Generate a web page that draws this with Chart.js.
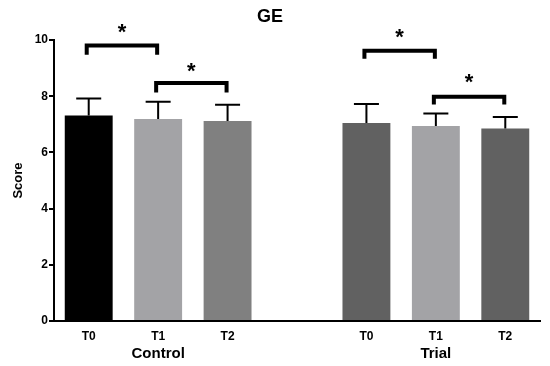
<!DOCTYPE html>
<html>
<head>
<meta charset="utf-8">
<script src="https://cdn.jsdelivr.net/npm/chart.js@4.4.1/dist/chart.umd.min.js"></script>
<style>
  html, body { margin: 0; padding: 0; background: #fff; }
  #wrap { width: 550px; height: 366px; }
</style>
</head>
<body>
<div id="wrap"><canvas id="chart" width="550" height="366"></canvas></div>
<script>
// slots: Control T0..T2, gap, Trial T0..T2
const timeLabels = ["T0", "T1", "T2", "", "T0", "T1", "T2"];
const groupLabels = ["", "Control", "", "", "", "Trial", ""];
const scores = [7.31, 7.19, 7.12, null, 7.05, 6.94, 6.85];
const errors = [0.61, 0.61, 0.58, null, 0.67, 0.44, 0.41];
const barColors = ["#000000", "#a3a3a6", "#808080", "#ffffff", "#616161", "#a3a3a6", "#616161"];
const yTicks = [0, 2, 4, 6, 8, 10];
// significance brackets: [from slot, to slot, line level, end level, star level]
const brackets = [
  [0, 1, 9.8, 9.55, 10.4],
  [1, 2, 8.47, 8.2, 9.0],
  [4, 5, 9.62, 9.4, 10.2],
  [5, 6, 7.98, 7.78, 8.6]
];

const font = "'Liberation Sans', Arial, sans-serif";

const errorBars = {
  id: "errorBars",
  afterDatasetsDraw(c) {
    const ctx = c.ctx, y = c.scales.y;
    const meta = c.getDatasetMeta(0);
    ctx.save();
    ctx.strokeStyle = "#000";
    ctx.lineWidth = 2;
    meta.data.forEach((bar, i) => {
      if (scores[i] == null) return;
      const top = y.getPixelForValue(scores[i] + errors[i]);
      const base = y.getPixelForValue(scores[i]);
      ctx.beginPath();
      ctx.moveTo(bar.x, base);
      ctx.lineTo(bar.x, top);
      ctx.moveTo(bar.x - 12.5, top);
      ctx.lineTo(bar.x + 12.5, top);
      ctx.stroke();
    });
    ctx.restore();
  }
};

const sigBrackets = {
  id: "sigBrackets",
  afterDraw(c) {
    const ctx = c.ctx, x = c.scales.x, y = c.scales.y;
    ctx.save();
    ctx.strokeStyle = "#000";
    ctx.lineWidth = 4;
    ctx.lineCap = "square";
    ctx.lineJoin = "miter";
    brackets.forEach(([a, b, lvl, endLvl, starLvl]) => {
      const x1 = x.getPixelForValue(a) - 2, x2 = x.getPixelForValue(b) - 1;
      const yl = y.getPixelForValue(lvl), ye = y.getPixelForValue(endLvl);
      ctx.beginPath();
      ctx.moveTo(x1, ye);
      ctx.lineTo(x1, yl);
      ctx.lineTo(x2, yl);
      ctx.lineTo(x2, ye);
      ctx.stroke();
      ctx.fillStyle = "#000";
      ctx.font = "bold 22px " + font;
      ctx.textAlign = "center";
      ctx.textBaseline = "middle";
      ctx.fillText("*", (x1 + x2) / 2, y.getPixelForValue(starLvl) + 4);
    });
    ctx.restore();
  }
};

new Chart(document.getElementById("chart"), {
  type: "bar",
  data: {
    labels: timeLabels,
    datasets: [{
      data: scores,
      backgroundColor: barColors,
      borderWidth: 0,
      barPercentage: 0.69,
      categoryPercentage: 1
    }]
  },
  options: {
    responsive: false,
    animation: false,
    layout: { padding: { left: 0, right: 10, top: 0, bottom: 0 } },
    plugins: {
      legend: { display: false },
      tooltip: { enabled: false },
      title: {
        display: true,
        text: "GE",
        color: "#000",
        font: { family: font, size: 18, weight: "bold" },
        padding: { top: 6, bottom: 12.4 }
      }
    },
    scales: {
      x: {
        type: "category",
        position: "bottom",
        weight: 0,
        offset: true,
        grid: { display: false, drawTicks: false },
        border: { display: true, color: "#000", width: 2 },
        ticks: { color: "#000", padding: 8, font: { family: font, size: 12, weight: "bold" }, maxRotation: 0, autoSkip: false },
        afterFit(s) { s.height = 22; }
      },
      x2: {
        type: "category",
        labels: groupLabels,
        position: "bottom",
        weight: 1,
        offset: true,
        grid: { display: false, drawTicks: false },
        border: { display: false },
        ticks: { color: "#000", padding: 2, font: { family: font, size: 15, weight: "bold" }, maxRotation: 0, autoSkip: false },
        afterFit(s) { s.height = 23; }
      },
      y: {
        min: 0,
        max: 10,
        afterBuildTicks(s) { s.ticks = yTicks.map(v => ({ value: v })); },
        grid: { drawOnChartArea: false, drawTicks: true, tickLength: 5, color: "#000", lineWidth: 2 },
        border: { display: true, color: "#000", width: 2 },
        ticks: { color: "#000", padding: 1, font: { family: font, size: 12, weight: "bold" } },
        title: { display: true, text: "Score", color: "#000", font: { family: font, size: 13, weight: "bold" }, padding: { top: 11, bottom: 0 } },
        afterFit(s) { s.width = 54; }
      }
    }
  },
  plugins: [errorBars, sigBrackets]
});
</script>
</body>
</html>
